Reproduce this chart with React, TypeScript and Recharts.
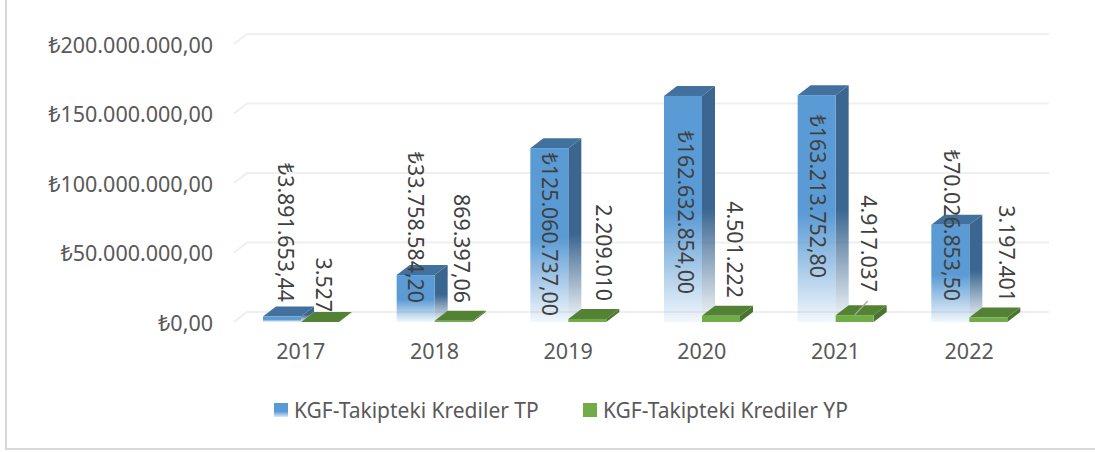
import { BarChart, Bar, XAxis, YAxis, CartesianGrid, LabelList, Legend } from "recharts";

const years = ["2017", "2018", "2019", "2020", "2021", "2022"];
const tpValues = [3891653.44, 33758584.2, 125060737, 162632854, 163213752.8, 70026853.5];
const ypValues = [3527, 869397.06, 2209010, 4501222, 4917037, 3197401];
const tpLabels = ["₺3.891.653,44", "₺33.758.584,20", "₺125.060.737,00", "₺162.632.854,00", "₺163.213.752,80", "₺70.026.853,50"];
const ypLabels = ["3.527", "869.397,06", "2.209.010", "4.501.222", "4.917.037", "3.197.401"];
const yTicks = [0, 50000000, 100000000, 150000000, 200000000];

// where each rotated label ends, hand placed like in the original
const tpLabelDx = [23, 20, 20, 22, 21, 21];
const tpLabelEnd = [302, 303, 316, 294, 278, 301];
const ypLabelDx = [23, 28, 36, 33, 34, 38];
const ypLabelEnd = [312, 303, 301, 298, 292, 302];

const DX = 13;
const DY = 10;

const chartData = years.map((year, i) => ({ year, tp: tpValues[i], yp: ypValues[i] }));

function formatTick(value: number) {
    const whole = value.toFixed(0).replace(/\B(?=(\d{3})+(?!\d))/g, ".");
    return `₺${whole},00`;
}

function Bar3D({ x, y, width, height, front, side, top }: any) {
    return (
        <g>
            <path d={`M${x + width},${y} L${x + width + DX},${y - DY} L${x + width + DX},${y + height - DY} L${x + width},${y + height} Z`} fill={side} />
            <path d={`M${x},${y} L${x + DX},${y - DY} L${x + width + DX},${y - DY} L${x + width},${y} Z`} fill={top} />
            <rect x={x} y={y} width={width} height={height} fill={front} />
        </g>
    );
}

function gridLine({ x1, x2, y1 }: any) {
    return (
        <path
            key={y1}
            d={`M${x1},${y1} L${x1 + DX},${y1 - DY} L${x2 + DX},${y1 - DY}`}
            fill="none"
            stroke="#efefef"
            strokeWidth={2}
        />
    );
}

function RotatedLabel({ x, index, labels, dxs, ends, leader }: any) {
    const lx = x + dxs[index];
    const ly = ends[index];
    return (
        <g>
            {leader === index && <line x1={x + 19} y1={315} x2={x + 32} y2={301} stroke="#a6a6a6" strokeWidth={1.2} />}
            <text
                x={lx}
                y={ly}
                transform={`rotate(90 ${lx} ${ly})`}
                textAnchor="end"
                dominantBaseline="central"
                fontFamily="Noto Sans"
                fontSize={21.3}
                fill="#404040"
            >
                {labels[index]}
            </text>
        </g>
    );
}

function ChartLegend() {
    const item = (label: string, bg: string, width: number) => (
        <div style={{ display: "flex", alignItems: "center", width }}>
            <span style={{ width: 14, height: 14, background: bg, marginRight: 6, flex: "none" }} />
            <span style={{ fontSize: 21, color: "#595959", whiteSpace: "nowrap" }}>{label}</span>
        </div>
    );
    return (
        <div style={{ display: "flex", fontFamily: "Noto Sans" }}>
            {item("KGF-Takipteki Krediler TP", "linear-gradient(#5b9bd5 60%, #dbe8f5)", 309)}
            {item("KGF-Takipteki Krediler YP", "#70ad47", 280)}
        </div>
    );
}

export default function App() {
    return (
        <div style={{ position: "fixed", left: 0, top: 0, width: 1095, height: 452, background: "#fff" }}>
            <div style={{ position: "absolute", left: 5, top: 0, width: 2, height: 450, background: "#d9d9d9" }} />
            <div style={{ position: "absolute", left: 5, top: 448, width: 1090, height: 2, background: "#d9d9d9" }} />
            <BarChart
                width={1095}
                height={452}
                data={chartData}
                barSize={38}
                barGap={0}
                margin={{ top: 44, right: 59, bottom: 42, left: 0 }}
            >
                <defs>
                    <linearGradient id="tpFront" x1="0" y1="0" x2="0" y2="1">
                        <stop offset="0" stopColor="#5b9bd5" />
                        <stop offset="0.52" stopColor="#5b9bd5" />
                        <stop offset="1" stopColor="#5b9bd5" stopOpacity={0.08} />
                    </linearGradient>
                    <linearGradient id="tpSide" x1="0" y1="0" x2="0" y2="1">
                        <stop offset="0" stopColor="#3a6690" />
                        <stop offset="0.52" stopColor="#3a6690" />
                        <stop offset="1" stopColor="#3a6690" stopOpacity={0.05} />
                    </linearGradient>
                </defs>
                <CartesianGrid vertical={false} horizontal={gridLine} />
                <XAxis
                    dataKey="year"
                    axisLine={false}
                    tickLine={false}
                    height={60}
                    tickMargin={16}
                    tick={{ fontSize: 21.5, fill: "#595959", fontFamily: "Noto Sans" }}
                />
                <YAxis
                    width={234}
                    domain={[0, 200000000]}
                    ticks={yTicks}
                    tickFormatter={formatTick}
                    axisLine={false}
                    tickLine={false}
                    tickMargin={15}
                    tick={{ fontSize: 21.5, fill: "#595959", fontFamily: "Noto Sans", dy: 1 }}
                />
                <Legend
                    content={<ChartLegend />}
                    wrapperStyle={{ position: "absolute", left: 274, top: 396, width: 600, height: 28 }}
                />
                <Bar
                    dataKey="tp"
                    isAnimationActive={false}
                    shape={(p: any) => <Bar3D {...p} front="url(#tpFront)" side="url(#tpSide)" top="#41719c" />}
                >
                    <LabelList
                        dataKey="tp"
                        content={(p: any) => <RotatedLabel {...p} labels={tpLabels} dxs={tpLabelDx} ends={tpLabelEnd} />}
                    />
                </Bar>
                <Bar
                    dataKey="yp"
                    isAnimationActive={false}
                    shape={(p: any) => <Bar3D {...p} front="#70ad47" side="#4a7530" top="#548235" />}
                >
                    <LabelList
                        dataKey="yp"
                        content={(p: any) => <RotatedLabel {...p} labels={ypLabels} dxs={ypLabelDx} ends={ypLabelEnd} leader={4} />}
                    />
                </Bar>
            </BarChart>
        </div>
    );
}
